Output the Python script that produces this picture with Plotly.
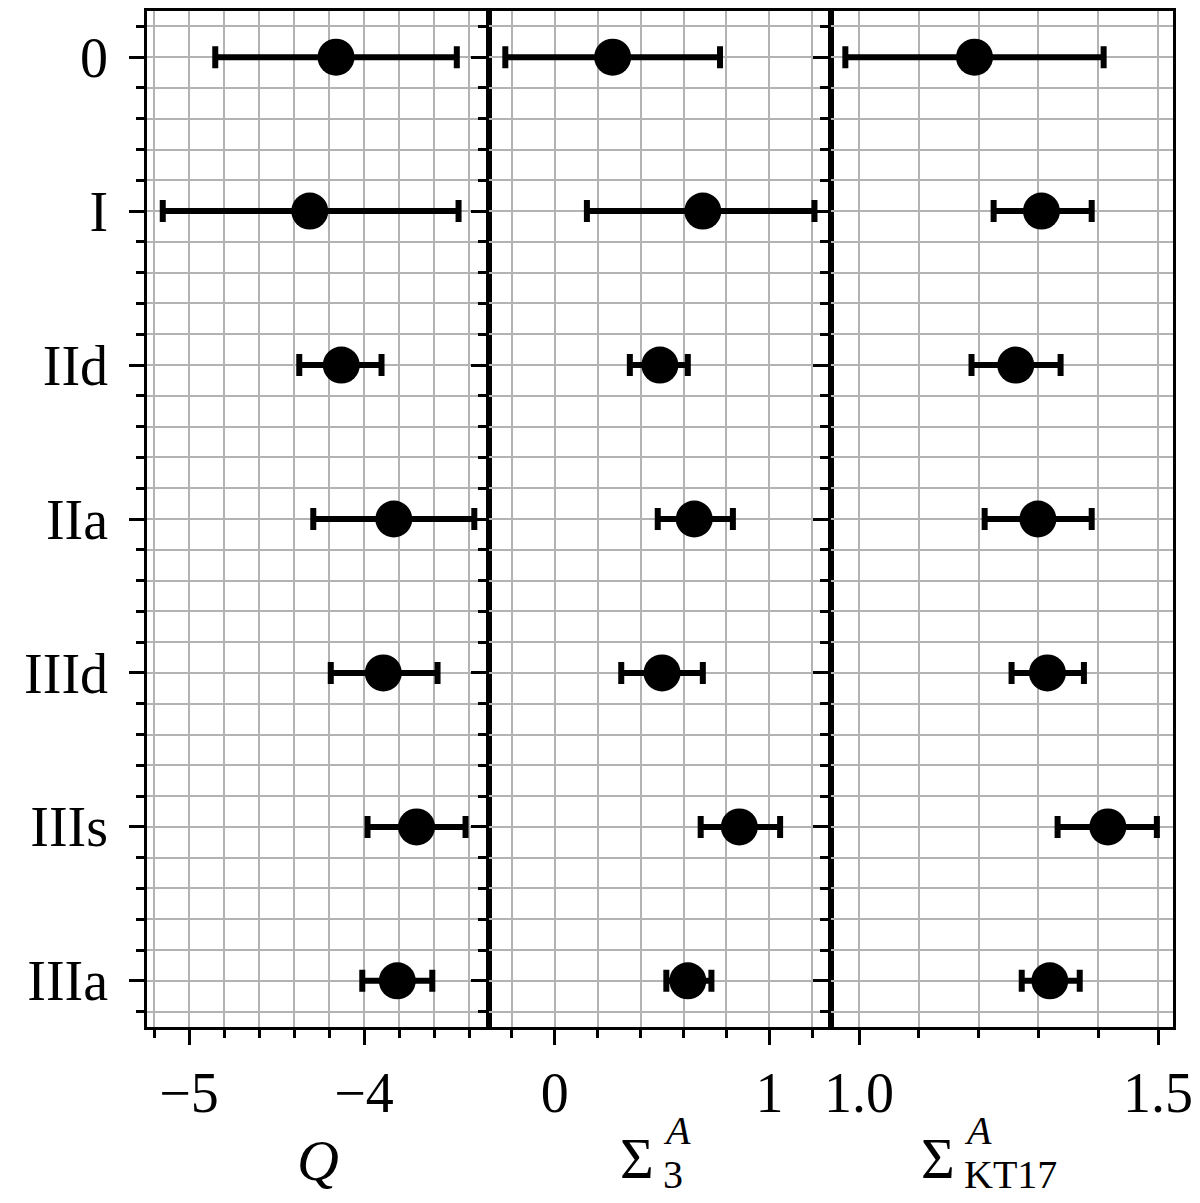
import plotly.graph_objects as go
from plotly.subplots import make_subplots

categories = ["0", "I", "IId", "IIa", "IIId", "IIIs", "IIIa"]

# Q: central value and interval
q_val = [-4.16, -4.31, -4.13, -3.83, -3.89, -3.70, -3.81]
q_lo = [-4.85, -5.15, -4.37, -4.29, -4.19, -3.98, -4.01]
q_hi = [-3.47, -3.46, -3.90, -3.37, -3.58, -3.42, -3.61]

# Sigma_3^A
s3_val = [0.27, 0.69, 0.49, 0.65, 0.50, 0.86, 0.62]
s3_lo = [-0.23, 0.15, 0.35, 0.48, 0.31, 0.68, 0.52]
s3_hi = [0.77, 1.21, 0.62, 0.83, 0.69, 1.05, 0.73]

# Sigma_KT17^A
kt_val = [1.193, 1.305, 1.262, 1.299, 1.315, 1.416, 1.319]
kt_lo = [0.977, 1.225, 1.188, 1.210, 1.255, 1.332, 1.272]
kt_hi = [1.409, 1.389, 1.337, 1.389, 1.376, 1.498, 1.369]

FONT = "Liberation Serif"
GRID = "#b3b3b3"
ypos = list(range(len(categories)))

# the page body has an 8px margin, so the figure is a little smaller than the window
W, H = 1192, 1195
ML, MR, MT, MB = 139, 27, 3, 176

fig = make_subplots(rows=1, cols=3, shared_yaxes=True, horizontal_spacing=0)

for col, (val, lo, hi) in enumerate(
    [(q_val, q_lo, q_hi), (s3_val, s3_lo, s3_hi), (kt_val, kt_lo, kt_hi)], start=1
):
    fig.add_trace(go.Scatter(
        x=val, y=ypos,
        mode="markers",
        marker=dict(size=37, color="black"),
        error_x=dict(
            type="data", symmetric=False,
            array=[h - v for h, v in zip(hi, val)],
            arrayminus=[v - l for v, l in zip(val, lo)],
            color="black", thickness=6, width=11,
        ),
        showlegend=False,
    ), row=1, col=col)

minor_x = dict(ticklen=8, tickwidth=2.5, tickcolor="black",
               ticks="outside", showgrid=True, gridcolor=GRID, gridwidth=2)

common_x = dict(
    showline=True, linecolor="black", linewidth=2.5, mirror=True,
    ticks="outside", ticklen=15, tickwidth=3, tickcolor="black",
    showgrid=True, gridcolor=GRID, gridwidth=2, zeroline=False,
    tickfont=dict(family=FONT, size=56, color="black"),
    ticklabelstandoff=0, automargin=False,
)

fig.update_xaxes(common_x, row=1, col=1, range=[-5.24, -3.286],
                 tickvals=[-5, -4], ticktext=["\u22125", "\u22124"],
                 minor=dict(minor_x, tick0=0, dtick=0.2))
fig.update_xaxes(common_x, row=1, col=2, range=[-0.306, 1.287],
                 tickvals=[0, 1], ticktext=["0", "1"],
                 minor=dict(minor_x, tick0=0, dtick=0.2))
fig.update_xaxes(common_x, row=1, col=3, range=[0.953, 1.525],
                 tickvals=[1.0, 1.5], ticktext=["1.0", "1.5"],
                 minor=dict(minor_x, tick0=0, dtick=0.1))

for col in (1, 2, 3):
    fig.update_yaxes(
        range=[6.3, -0.3],
        tickvals=ypos, ticktext=categories,
        showticklabels=(col == 1),
        showline=True, linecolor="black", linewidth=2.5, mirror=True,
        ticks="outside", ticklen=15, tickwidth=3, tickcolor="black",
        showgrid=True, gridcolor=GRID, gridwidth=2, zeroline=False,
        tickfont=dict(family=FONT, size=56, color="black"),
        ticklabelstandoff=10, automargin=False,
        minor=dict(minor_x, tick0=0, dtick=0.2),
        row=1, col=col,
    )

fig.update_layout(
    xaxis=dict(domain=[0, 1 / 3]),
    xaxis2=dict(domain=[1 / 3, 2 / 3]),
    xaxis3=dict(domain=[2 / 3, 1]),
)

PW = W - ML - MR
PH = H - MT - MB


# page pixel -> paper coordinates
def px_x(p):
    return (p - 8 - ML) / PW


def px_y(p):
    return (H - MB + 8 - p) / PH


big = dict(family=FONT, size=58, color="black")
small = dict(family=FONT, size=40, color="black")
annotations = [
    dict(text="<i>Q</i>", x=px_x(318), y=px_y(1160), font=big,
         xanchor="center", yanchor="middle"),
    dict(text="\u03a3", x=px_x(656), y=px_y(1158), font=big,
         xanchor="right", yanchor="middle"),
    dict(text="<i>A</i>", x=px_x(661), y=px_y(1130), font=small,
         xanchor="left", yanchor="middle"),
    dict(text="3", x=px_x(661), y=px_y(1174), font=small,
         xanchor="left", yanchor="middle"),
    dict(text="\u03a3", x=px_x(957), y=px_y(1158), font=big,
         xanchor="right", yanchor="middle"),
    dict(text="<i>A</i>", x=px_x(962), y=px_y(1130), font=small,
         xanchor="left", yanchor="middle"),
    dict(text="KT17", x=px_x(962), y=px_y(1174), font=small,
         xanchor="left", yanchor="middle"),
]
for a in annotations:
    a.update(xref="paper", yref="paper", showarrow=False)

fig.update_layout(
    width=W, height=H,
    margin=dict(l=ML, r=MR, t=MT, b=MB),
    plot_bgcolor="white", paper_bgcolor="white",
    annotations=annotations,
    font=dict(family=FONT, color="black"),
)

fig.write_html("out.html")
